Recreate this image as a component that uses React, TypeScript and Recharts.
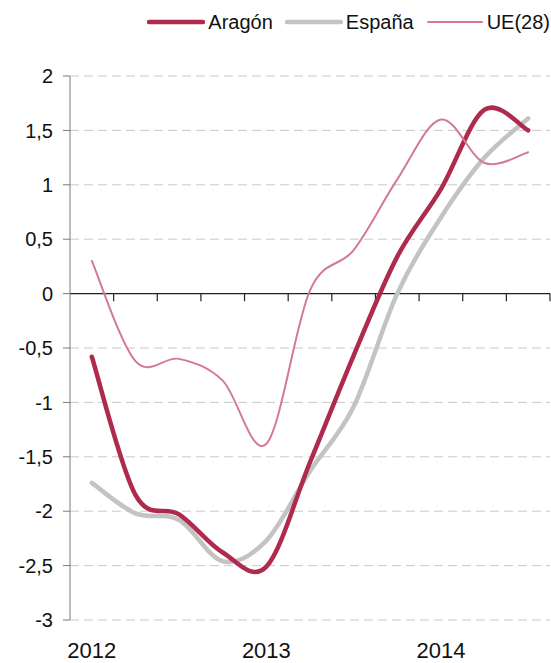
import { LineChart, Line, XAxis, YAxis, CartesianGrid, Legend, ReferenceLine } from 'recharts'

const quarters = ['2012 T1', '2012 T2', '2012 T3', '2012 T4', '2013 T1', '2013 T2', '2013 T3', '2013 T4', '2014 T1', '2014 T2', '2014 T3']
const aragon = [-0.58, -1.85, -2.03, -2.38, -2.51, -1.55, -0.57, 0.34, 0.96, 1.69, 1.5]
const espana = [-1.74, -2.02, -2.08, -2.46, -2.27, -1.63, -1.04, 0.0, 0.7, 1.25, 1.61]
const ue28 = [0.3, -0.62, -0.6, -0.8, -1.38, 0.03, 0.4, 1.05, 1.6, 1.2, 1.3]
const yTicks = [-3, -2.5, -2, -1.5, -1, -0.5, 0, 0.5, 1, 1.5, 2]

const series = [
  { key: 'aragon', name: 'Aragón', color: '#ae2b4e', width: 4.5 },
  { key: 'espana', name: 'España', color: '#c3c3c3', width: 4.5 },
  { key: 'ue', name: 'UE(28)', color: '#d47a92', width: 2 },
]

const data = quarters.map((q, i) => ({ i, q, aragon: aragon[i], espana: espana[i], ue: ue28[i] }))
// first quarter of each year gets the year label
const yearTicks = quarters.map((q, i) => (q.endsWith('T1') ? i : -1)).filter(i => i >= 0)
// small tick marks on the zero line sit between the quarters
const quarterBounds = quarters.map((_, i) => i + 0.5)

const font = '"Liberation Sans", Arial, sans-serif'

// Excel-like smoothed line (uniform Catmull-Rom as cubic beziers)
function smooth(context: any) {
  let pts: number[][] = []
  return {
    areaStart() {},
    areaEnd() {},
    lineStart() { pts = [] },
    point(x: number, y: number) { pts.push([+x, +y]) },
    lineEnd() {
      if (!pts.length) return
      context.moveTo(pts[0][0], pts[0][1])
      for (let i = 0; i < pts.length - 1; i++) {
        const p0 = pts[Math.max(i - 1, 0)]
        const p1 = pts[i]
        const p2 = pts[i + 1]
        const p3 = pts[Math.min(i + 2, pts.length - 1)]
        context.bezierCurveTo(
          p1[0] + (p2[0] - p0[0]) / 6, p1[1] + (p2[1] - p0[1]) / 6,
          p2[0] - (p3[0] - p1[0]) / 6, p2[1] - (p3[1] - p1[1]) / 6,
          p2[0], p2[1],
        )
      }
    },
  }
}

function LegendRow() {
  return (
    <div style={{ display: 'flex', justifyContent: 'flex-end', alignItems: 'center', height: 30, fontFamily: font, fontSize: 20, color: '#111' }}>
      {series.map(s => (
        <div key={s.key} style={{ display: 'flex', alignItems: 'center', marginLeft: 12 }}>
          <svg width={58} height={30}>
            <line x1={2} y1={15} x2={56} y2={15} stroke={s.color} strokeWidth={s.width} strokeLinecap="round" />
          </svg>
          <span style={{ marginLeft: 3 }}>{s.name}</span>
        </div>
      ))}
    </div>
  )
}

export default function App() {
  const drawOrder = [series[1], series[0], series[2]]
  return (
    <div style={{ position: 'absolute', left: 0, top: 0 }}>
      <LineChart width={551} height={663} data={data} margin={{ top: 46, right: 1, bottom: 0, left: 0 }}>
        <CartesianGrid vertical={false} stroke="#c8c8c8" strokeDasharray="9 5" />
        <XAxis
          type="number"
          dataKey="i"
          domain={[-0.5, quarters.length - 0.5]}
          ticks={yearTicks}
          tickFormatter={v => quarters[v].slice(0, 4)}
          axisLine={false}
          tickLine={false}
          tickMargin={16}
          height={43}
          tick={{ fontSize: 22, fontFamily: font, fill: '#111' }}
        />
        <YAxis
          domain={[-3, 2]}
          ticks={yTicks}
          width={70}
          tickSize={7}
          tickMargin={10}
          tickFormatter={v => String(v).replace('.', ',')}
          axisLine={{ stroke: '#7a7a7a' }}
          tickLine={{ stroke: '#7a7a7a' }}
          tick={{ fontSize: 20, fontFamily: font, fill: '#111' }}
        />
        <ReferenceLine y={0} stroke="#222" strokeWidth={1.2} />
        {quarterBounds.map(b => (
          <ReferenceLine key={b} segment={[{ x: b, y: 0 }, { x: b, y: -0.07 }]} stroke="#222" strokeWidth={1.2} />
        ))}
        <Legend verticalAlign="top" align="right" wrapperStyle={{ top: 7 }} content={() => <LegendRow />} />
        {drawOrder.map(s => (
          <Line
            key={s.key}
            type={smooth as any}
            dataKey={s.key}
            name={s.name}
            stroke={s.color}
            strokeWidth={s.width}
            strokeLinecap="round"
            strokeLinejoin="round"
            dot={false}
            activeDot={false}
            isAnimationActive={false}
          />
        ))}
      </LineChart>
    </div>
  )
}
